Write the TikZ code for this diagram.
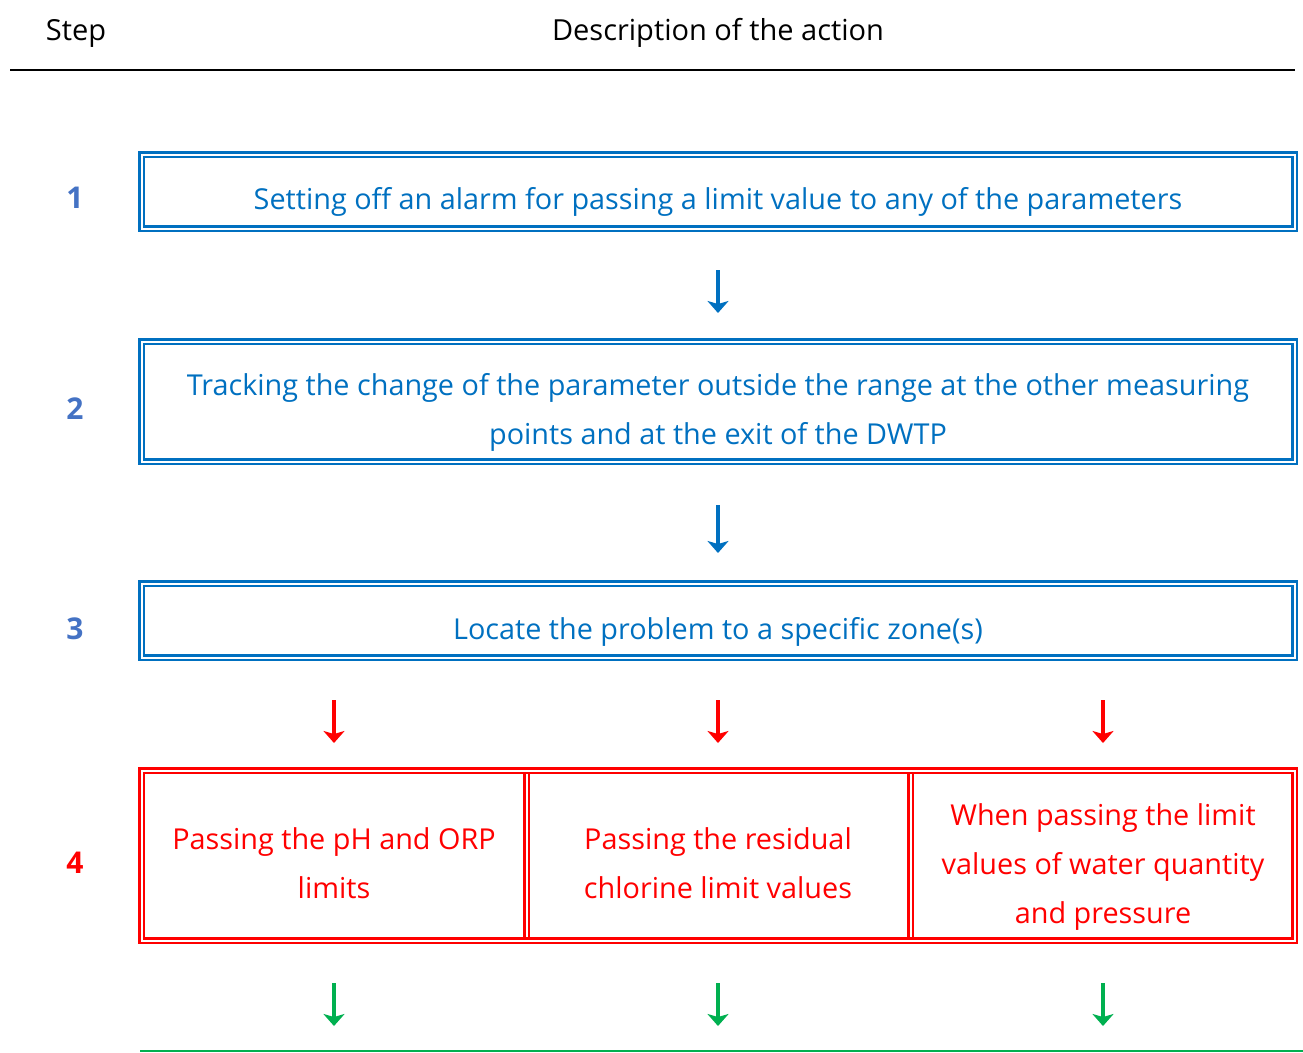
\documentclass[tikz,border=0pt]{standalone}
\usepackage{fontspec}
\setmainfont{Open Sans}
\usetikzlibrary{arrows.meta}
\definecolor{wblue}{HTML}{0070C0}
\definecolor{wred}{HTML}{FF0000}
\definecolor{wgreen}{HTML}{00B050}
\definecolor{numblue}{HTML}{4472C4}
\begin{document}
\begin{tikzpicture}[x=1pt,y=-1pt,
  dbox/.style={draw=#1, double=white, double distance=2pt, line width=2.7pt,
    minimum width=1153pt, inner sep=0pt, outer sep=0pt, rectangle},
  dline/.style={draw=#1, double=white, double distance=2pt, line width=2.7pt,
    shorten <=3.7pt, shorten >=3.7pt},
  txt/.style={font=\fontsize{28.8}{49}\selectfont, text=#1, anchor=base,
    inner sep=0pt, align=center},
  num/.style={font=\fontsize{30}{34}\selectfont\bfseries, text=#1, anchor=base, inner sep=0pt},
  hdr/.style={font=\fontsize{29}{32}\selectfont, anchor=base, inner sep=0pt},
  arr/.style={draw=#1, line width=4.5pt, -{Stealth[length=12pt,width=21pt,inset=3pt]}}]
\useasboundingbox (0,0) rectangle (1303,1052);

% header
\node[hdr] (hstep) at (76,40) {Step};
\node[hdr] (hdesc) at (718,40) {Description of the action};
\draw[line width=2pt] (10,70) -- (1295,70);

% step numbers
\node[num=numblue] (n1) at (75,208) {1};
\node[num=numblue] (n2) at (75,419) {2};
\node[num=numblue] (n3) at (75,639) {3};
\node[num=wred] (n4) at (75,873) {4};

% boxes
\node[dbox=wblue, minimum height=74pt] (b1) at (718,191.5) {};
\node[txt=wblue] (t1) at (718,209) {Setting off an alarm for passing a limit value to any of the parameters};

\node[dbox=wblue, minimum height=120pt] (b2) at (718,401.5) {};
\node[txt=wblue] (t2) at (718,444) {Tracking the change of the parameter outside the range at the other measuring\\points and at the exit of the DWTP};

\node[dbox=wblue, minimum height=74pt] (b3) at (718,620.5) {};
\node[txt=wblue] (t3) at (718,639) {Locate the problem to a specific zone(s)};

\coordinate (d1) at (526.5,855);
\coordinate (d2) at (910.5,855);
\node[dbox=wred, minimum height=170pt] (b4) at (718,855.5) {};
\draw[dline=wred] (b4.north -| d1) -- (b4.south -| d1);
\draw[dline=wred] (b4.north -| d2) -- (b4.south -| d2);

\node[txt=wred] (c1) at (334,898) {Passing the pH and ORP\\limits};
\node[txt=wred] (c2) at (718,898) {Passing the residual\\chlorine limit values};
\node[txt=wred] (c3) at (1103,923) {When passing the limit\\values of water quantity\\and pressure};

% green line
\coordinate (gl) at (718,1051);
\draw[wgreen, line width=2.5pt] (140,1051) -- (1303,1051);

% arrows
\draw[arr=wblue, shorten <=41.5pt, shorten >=28.5pt] (b1.south) -- (b2.north);
\draw[arr=wblue, shorten <=43.5pt, shorten >=30.5pt] (b2.south) -- (b3.north);
\foreach \c in {c1,c2,c3}{
  \draw[arr=wred, shorten <=42.5pt, shorten >=27.5pt] (b3.south -| \c) -- (b4.north -| \c);
  \draw[arr=wgreen, shorten <=42.5pt, shorten >=25pt] (b4.south -| \c) -- (gl -| \c);
}
\end{tikzpicture}
\end{document}
